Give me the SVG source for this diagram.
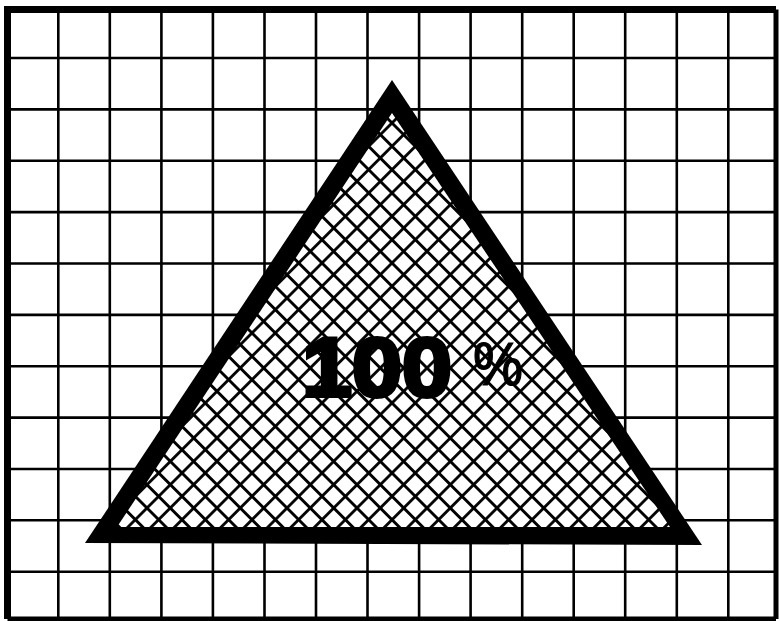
<svg xmlns="http://www.w3.org/2000/svg" width="780" height="621" viewBox="0 0 780 621">
<defs>
<style>
.g{stroke:#000;stroke-width:2.6;fill:none}
.b{stroke:#000;fill:none}
.lbl{font-family:"Liberation Sans",Arial,sans-serif;fill:#000}
</style>
<pattern id="hatch" patternUnits="userSpaceOnUse" width="16.5" height="16.5" patternTransform="translate(392 438) rotate(45)">
<rect width="16.5" height="16.5" fill="#fff"/>
<path d="M8.25 0V16.5M0 8.25H16.5" stroke="#000" stroke-width="2.8"/>
</pattern>
</defs>
<rect width="780" height="621" fill="#fff"/>
<g id="grid">
<path class="g" d="M58.3 9V619M109.8 9V619M161.4 9V619M212.9 9V619M264.5 9V619M316 9V619M367.5 9V619M419.1 9V619M470.6 9V619M522.2 9V619M573.7 9V619M625.2 9V619M676.8 9V619M728.3 9V619"/>
<path class="g" d="M7 58H776M7 109.4H776M7 160.7H776M7 212.1H776M7 263.5H776M7 314.9H776M7 366.2H776M7 417.6H776M7 469H776M7 520.3H776M7 571.7H776"/>
<path class="b" stroke-width="7" d="M7.5 619V9.5H776"/>
<path class="b" stroke-width="5" d="M776 9.5V619M7.5 619H776"/>
</g>
<g id="triangle">
<polygon points="85,543 392,80 702,545" fill="#000"/>
<polygon points="117,527 392,113 670,527" fill="url(#hatch)"/>
</g>
<g id="label">
<text class="lbl" x="302" y="396" font-size="84" font-weight="bold" stroke="#000" stroke-width="4" textLength="150" lengthAdjust="spacingAndGlyphs">100</text>
<text class="lbl" x="473" y="385" font-size="62" stroke="#000" stroke-width="1.2" textLength="50" lengthAdjust="spacingAndGlyphs">%</text>
</g>
</svg>
